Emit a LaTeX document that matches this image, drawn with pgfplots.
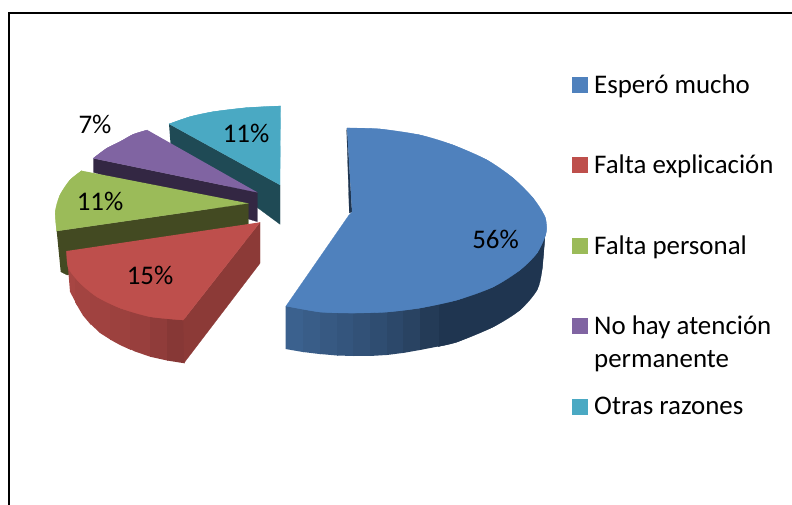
\documentclass[border=0pt]{standalone}
\usepackage{pgfplots}
\pgfplotsset{compat=1.18}
\usepackage{fontspec}
\setmainfont{Carlito}
\definecolor{cB}{HTML}{4F81BD}
\definecolor{cBd}{HTML}{1F3550}
\definecolor{cR}{HTML}{BE4F4C}
\definecolor{cRr}{HTML}{8C3A37}
\definecolor{cG}{HTML}{9BBB59}
\definecolor{cGd}{HTML}{434A22}
\definecolor{cP}{HTML}{8064A2}
\definecolor{cPd}{HTML}{332743}
\definecolor{cT}{HTML}{4AA9C3}
\definecolor{cTd}{HTML}{1F4A55}
\newcommand{\lbl}{\fontsize{26.9}{26.9}\selectfont}
\begin{document}
\begin{tikzpicture}
\path[use as bounding box] (0,0) rectangle (792pt,504pt);
\begin{axis}[
  scale only axis, width=792pt, height=504pt,
  xmin=0, xmax=792, ymin=0, ymax=504, y dir=reverse,
  hide axis, clip=false,
  every axis plot/.append style={line width=0.2pt, sharp plot},
]
% frame
\addplot[black, line width=2pt] coordinates {(8.5,512) (8.5,13) (800,13)};
% teal slice
\addplot[fill=cTd, draw=cTd] coordinates {(169,124) (280,185) (280,224.3) (170.5,143.5)};
\addplot[fill=cT, draw=cT] coordinates {(169,124) (190,116.7) (213.3,111.7) (246.7,107.7) (280.7,106) (280,185)};
\addplot[smooth, fill=cT, draw=cT] coordinates {(169,124) (190,116.7) (213.3,111.7) (246.7,107.7) (280.7,106)};
% purple slice
\addplot[fill=cPd, draw=cPd] coordinates {(93.3,158.3) (257.3,192.3) (257.3,221.7) (93.3,172.3)};
\addplot[fill=cP, draw=cP] coordinates {(147.3,130) (133.3,134.3) (120,141.7) (106.7,148.3) (93.3,158.3) (257.3,192.3)};
\addplot[smooth, fill=cP, draw=cP] coordinates {(147.3,130) (133.3,134.3) (120,141.7) (106.7,148.3) (93.3,158.3)};
% green slice
\addplot[fill=cGd, draw=cGd] coordinates {(56.7,231) (248.3,203.3) (248.3,240) (67,275) (60.7,271.7)};
\addplot[fill=cG, draw=cG] coordinates {(81.7,170.7) (70,180) (60,195) (55.3,211.7) (56.7,231) (248.3,203.3)};
\addplot[smooth, fill=cG, draw=cG] coordinates {(81.7,170.7) (70,180) (60,195) (55.3,211.7) (56.7,231)};
% red slice: side strips
\addplot[fill=cR!88!black, draw=none] coordinates {(66.7,252) (77,276) (77,305) (70,291.7)};
\addplot[fill=cR!86!black, draw=none] coordinates {(75,270) (91,288) (91,325) (83,315.5) (75,302)};
\addplot[fill=cR!84!black, draw=none] coordinates {(90,288) (111,300) (111,340) (100,333) (90,323.5)};
\addplot[fill=cR!82!black, draw=none] coordinates {(110,300) (131,308) (131,350) (120,345) (110,339.5)};
\addplot[fill=cR!80!black, draw=none] coordinates {(130,308) (151,312) (151,357) (135,351.5) (130,349)};
\addplot[fill=cR!76!black, draw=none] coordinates {(150,312) (168,315) (168,360.7) (150,356.7)};
\addplot[fill=cR!71!black, draw=none] coordinates {(167,315) (184.5,317) (184.5,363.3) (167,360.5)};
\addplot[fill=cRr, draw=cRr] coordinates {(183.3,320) (260,222.3) (260,263.3) (184,363)};
\addplot[fill=cR, draw=cR] coordinates {(66.7,251) (68.3,268) (80,283) (96.7,296.7) (120,308) (150,316.7) (183.3,320) (260,222.3)};
\addplot[smooth, fill=cR, draw=cR] coordinates {(66.7,251) (68.3,268) (80,283) (96.7,296.7) (120,308) (150,316.7) (183.3,320)};
% blue side
\addplot[smooth, fill=cBd, draw=cBd] coordinates {(545,235) (542,270) (537,290) (520,310) (493,327) (457,342) (438,346.5)};
\addplot[fill=cBd, draw=cBd] coordinates {(545.5,230) (537,253) (520,270) (493,287) (457,298) (438,300) (438,346.5) (457,342) (493,327) (520,310) (537,290) (542,270) (545,235)};
\addplot[fill=cB!75!black, draw=none] coordinates {(285.5,306) (304,306) (304,352.2) (285.5,349)};
\addplot[fill=cB!72!black, draw=none] coordinates {(303,306) (321,306) (321,354.2) (303,352)};
\addplot[fill=cB!69!black, draw=none] coordinates {(320,306) (338,306) (338,355.6) (320,354)};
\addplot[fill=cB!66!black, draw=none] coordinates {(337,306) (354,306) (354,356) (337,355.5)};
\addplot[fill=cB!63!black, draw=none] coordinates {(353,306) (371,306) (371,356) (353,356)};
\addplot[fill=cB!60!black, draw=none] coordinates {(370,306) (388,306) (388,354.9) (370,356)};
\addplot[fill=cB!56!black, draw=none] coordinates {(387,306) (404,304) (404,352.8) (387,355)};
\addplot[fill=cB!52!black, draw=none] coordinates {(403,304) (421,302) (421,349.8) (403,353)};
\addplot[fill=cB!46!black, draw=none] coordinates {(420,302) (439,300) (439,346.3) (420,350)};
% blue inner sliver
\addplot[fill=cBd, draw=cBd] coordinates {(346.7,130) (349.3,213) (352,212) (347,128)};
% blue top
\addplot[fill=cB, draw=cB] coordinates {(347,128) (380,129) (420,135) (453,145) (487,160) (513,178) (533,198) (545,217) (546,233) (537,253) (520,270) (493,287) (457,300) (420,308) (387,312) (353,313) (320,312) (286,306) (349,215) (352,212)};
\addplot[smooth, fill=cB, draw=cB] coordinates {(347,128) (380,129) (420,135) (453,145) (487,160) (513,178) (533,198) (545,217) (546,233) (537,253)};
\addplot[smooth, fill=cB, draw=cB] coordinates {(545,217) (546,233) (537,253) (520,270) (493,287) (457,300) (420,308) (387,312) (353,313) (320,312) (286,306)};
% legend squares
\addplot[only marks, mark=square*, mark size=7.5pt, mark options={fill=cB, draw=cB}] coordinates {(579.5,84.5)};
\addplot[only marks, mark=square*, mark size=7.5pt, mark options={fill=cR, draw=cR}] coordinates {(579.5,164.5)};
\addplot[only marks, mark=square*, mark size=7.5pt, mark options={fill=cG, draw=cG}] coordinates {(579.5,245.5)};
\addplot[only marks, mark=square*, mark size=7.5pt, mark options={fill=cP, draw=cP}] coordinates {(579.5,325.5)};
\addplot[only marks, mark=square*, mark size=7.5pt, mark options={fill=cT, draw=cT}] coordinates {(579.5,406.5)};
% legend text
\node[anchor=base west, inner sep=0pt] at (axis cs:594,93.5) {\lbl Esperó mucho};
\node[anchor=base west, inner sep=0pt] at (axis cs:594,173.5) {\lbl Falta explicación};
\node[anchor=base west, inner sep=0pt] at (axis cs:594,254.5) {\lbl Falta personal};
\node[anchor=base west, inner sep=0pt] at (axis cs:594,334.5) {\lbl No hay atención};
\node[anchor=base west, inner sep=0pt] at (axis cs:594,367.5) {\lbl permanente};
\node[anchor=base west, inner sep=0pt] at (axis cs:594,414.5) {\lbl Otras razones};
% data labels
\node[anchor=base, inner sep=0pt] at (axis cs:495.5,248) {\lbl 56\%};
\node[anchor=base, inner sep=0pt] at (axis cs:95,133.5) {\lbl 7\%};
\node[anchor=base, inner sep=0pt] at (axis cs:246,142) {\lbl 11\%};
\node[anchor=base, inner sep=0pt] at (axis cs:100,210.5) {\lbl 11\%};
\node[anchor=base, inner sep=0pt] at (axis cs:150,284) {\lbl 15\%};
\end{axis}
\end{tikzpicture}
\end{document}
